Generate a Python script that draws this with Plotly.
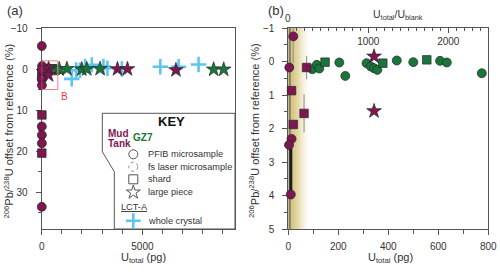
import plotly.graph_objects as go

W, H = 500, 272

# ---------------- data (U_total in pg, 206Pb/238U offset in %) ----------------
# Mud Tank
mt_circle_pg = [20, 4, 13, 3, 10, 5, 6, 8, 9, 4]
mt_circle_off = [-0.75, 0.18, 2.31, 2.49, 3.97, -5.6, 14.0, 16.1, 18.1, 33.6]
mt_circle_err_plus = [0.8, 0, 0, 0, 0, 0, 0, 0, 0, 0]
mt_circle_err_minus = [0.25, 0, 0, 0, 1.6, 0, 0, 0, 0, 0]
mt_circle_err_dark = [False, False, False, False, True, False, False, False, False, False]

mt_square_pg = [73, 13, 63, 20, 10, 6]
mt_square_off = [0.18, 0.87, 1.55, 1.88, 11.2, 20.5]
mt_square_err = [0.35, 0, 0.57, 0, 0, 0]

mt_star_pg = [343, 343, 3763, 4259, 6667]
mt_star_off = [-0.15, 1.48, 0.0, 0.0, 0.25]

# GZ7
gz_circle_pg = [96, 114, 124, 204, 228, 313, 330, 343, 356, 434, 500, 607, 634, 774]
gz_circle_off = [0.23, 0.10, 0.21, 0.03, 0.43, 0.05, 0.15, 0.20, 0.25, -0.03, 0.02, -0.02, 0.03, 0.35]
gz_square_pg = [147, 378, 554]
gz_square_off = [0.02, 0.05, -0.05]
gz_star_pg = [870, 1250, 1990, 2240, 2900, 8540, 9040]
gz_star_off = [0.0, -0.05, 0.05, 0.0, -0.05, 0.1, 0.1]

# LCT-A whole crystals
lct_pg = [1490, 1710, 1905, 2155, 2490, 3065, 3265, 3980, 5890, 6800, 7790]
lct_off = [2.4, 0.25, 0.3, -0.6, -1.0, -0.6, -0.2, 0.0, -0.55, -0.55, -1.1]

U_BLANK_PG = 0.32          # blank U used for the top ratio axis
BLANK_ZONE_PG = 95         # shaded low-U zone in panel b
A_XRANGE = [0, 9600]
A_YRANGE = [39, -10]
B_XRANGE = [0, 800]
B_YRANGE = [5, -1]
INSET_BOX = dict(x0=0, x1=800, y0=-2, y1=5)

# ---------------- style ----------------
PURPLE = '#7e1651'
GREEN = '#18763b'
LBLUE = '#5ec4f0'
OUTL = '#262626'
AX = '#555555'
TXT = '#333333'
FONT = 'Arial, Liberation Sans, sans-serif'
STAR = 11


def P(x, y):
    return x / W, 1 - y / H


fig = go.Figure()


def in_b(xs, ys):
    return [i for i, (x, y) in enumerate(zip(xs, ys))
            if B_XRANGE[0] <= x <= B_XRANGE[1] and min(B_YRANGE) <= y <= max(B_YRANGE)]


def pick(arr, idx):
    return [arr[i] for i in idx]


def mk(symbol, color, size):
    if symbol == 'cross-thin':
        return dict(symbol=symbol, size=size, color=color, line=dict(color=color, width=2.6))
    return dict(symbol=symbol, size=size, color=color, line=dict(color=OUTL, width=0.7))


# ---- panel b shaded blank zone ----
fig.add_trace(go.Scatter(
    x=[0, BLANK_ZONE_PG, BLANK_ZONE_PG, 0, 0],
    y=[B_YRANGE[1], B_YRANGE[1], B_YRANGE[0], B_YRANGE[0], B_YRANGE[1]],
    mode='lines', line=dict(width=0), fill='toself',
    fillgradient=dict(type='horizontal', colorscale=[
        [0, 'rgb(118,110,80)'], [0.09, 'rgb(150,138,92)'], [0.13, 'rgb(212,194,128)'],
        [0.45, 'rgb(232,221,178)'], [1, 'rgba(255,255,255,0)']]),
    xaxis='x2', yaxis='y2', hoverinfo='skip', showlegend=False))

# top ratio axis needs a (blank) trace to be drawn
fig.add_trace(go.Scatter(x=[B_XRANGE[1] / U_BLANK_PG / 2], y=[B_YRANGE[0] + 10], mode='markers',
                         marker=dict(size=1, color='rgba(0,0,0,0)'), xaxis='x3', yaxis='y2',
                         showlegend=False, hoverinfo='skip'))

series = [
    (lct_pg, lct_off, 'cross-thin', LBLUE, 11),
    (gz_circle_pg, gz_circle_off, 'circle', GREEN, 9),
    (gz_square_pg, gz_square_off, 'square', GREEN, 8.5),
    (gz_star_pg, gz_star_off, 'star', GREEN, STAR),
]

# Panel a (all points)
for xs, ys, sym, col, sz in series:
    fig.add_trace(go.Scatter(x=xs, y=ys, mode='markers', marker=mk(sym, col, sz),
                             cliponaxis=False, xaxis='x', yaxis='y', showlegend=False))
fig.add_trace(go.Scatter(x=mt_square_pg, y=mt_square_off, mode='markers',
                         marker=mk('square', PURPLE, 8.5), cliponaxis=False,
                         xaxis='x', yaxis='y', showlegend=False))
fig.add_trace(go.Scatter(x=mt_circle_pg, y=mt_circle_off, mode='markers',
                         marker=mk('circle', PURPLE, 9), cliponaxis=False,
                         xaxis='x', yaxis='y', showlegend=False))
fig.add_trace(go.Scatter(x=mt_star_pg, y=mt_star_off, mode='markers',
                         marker=mk('star', PURPLE, STAR), cliponaxis=False,
                         xaxis='x', yaxis='y', showlegend=False))

# Panel b (points inside the zoom window)
for xs, ys, sym, col, sz in series:
    idx = in_b(xs, ys)
    if idx:
        fig.add_trace(go.Scatter(x=pick(xs, idx), y=pick(ys, idx), mode='markers',
                                 marker=mk(sym, col, sz), cliponaxis=False,
                                 xaxis='x2', yaxis='y2', showlegend=False))

# Mud Tank error bars (panel b)
idx = in_b(mt_circle_pg, mt_circle_off)
dark = [i for i in idx if mt_circle_err_dark[i]]
fig.add_trace(go.Scatter(
    x=pick(mt_circle_pg, dark), y=pick(mt_circle_off, dark), mode='markers',
    marker=dict(size=1, color='rgba(0,0,0,0)'),
    error_y=dict(type='data', symmetric=False, array=pick(mt_circle_err_plus, dark),
                 arrayminus=pick(mt_circle_err_minus, dark), color='#1e1e1e',
                 thickness=3, width=0),
    xaxis='x2', yaxis='y2', showlegend=False, hoverinfo='skip'))

idx_s = in_b(mt_square_pg, mt_square_off)
fig.add_trace(go.Scatter(
    x=pick(mt_square_pg, idx_s), y=pick(mt_square_off, idx_s), mode='markers',
    marker=mk('square', PURPLE, 8.5),
    error_y=dict(type='data', array=pick(mt_square_err, idx_s), color='#9a9a9a',
                 thickness=1.2, width=0),
    cliponaxis=False, xaxis='x2', yaxis='y2', showlegend=False))
fig.add_trace(go.Scatter(
    x=pick(mt_circle_pg, idx), y=pick(mt_circle_off, idx), mode='markers',
    marker=mk('circle', PURPLE, 9),
    error_y=dict(type='data', symmetric=False,
                 array=[0 if mt_circle_err_dark[i] else mt_circle_err_plus[i] for i in idx],
                 arrayminus=[0 if mt_circle_err_dark[i] else mt_circle_err_minus[i] for i in idx],
                 color='#9a9a9a', thickness=1.2, width=0),
    cliponaxis=False, xaxis='x2', yaxis='y2', showlegend=False))
idx_t = in_b(mt_star_pg, mt_star_off)
fig.add_trace(go.Scatter(x=pick(mt_star_pg, idx_t), y=pick(mt_star_off, idx_t), mode='markers',
                         marker=mk('star', PURPLE, STAR), cliponaxis=False,
                         xaxis='x2', yaxis='y2', showlegend=False))

# ---- key glyphs on a full-figure pixel overlay axis ----
KX = 133.3
fig.add_trace(go.Scatter(x=[KX], y=[154.3], mode='markers', xaxis='x4', yaxis='y4',
                         marker=dict(symbol='circle-open', size=9, color='#555', line=dict(width=1)),
                         showlegend=False, hoverinfo='skip'))
fig.add_trace(go.Scatter(x=[KX], y=[179.3], mode='markers', xaxis='x4', yaxis='y4',
                         marker=dict(symbol='square-open', size=9, color='#555', line=dict(width=1)),
                         showlegend=False, hoverinfo='skip'))
fig.add_trace(go.Scatter(x=[KX], y=[192.3], mode='markers', xaxis='x4', yaxis='y4',
                         marker=dict(symbol='star-open', size=10.5, color='#555', line=dict(width=1)),
                         showlegend=False, hoverinfo='skip'))
fig.add_trace(go.Scatter(x=[KX], y=[220.7], mode='markers', xaxis='x4', yaxis='y4',
                         marker=dict(symbol='cross-thin', size=10.5, color=LBLUE,
                                     line=dict(color=LBLUE, width=2.6)),
                         showlegend=False, hoverinfo='skip'))

# ---------------- axes ----------------
ydom = [1 - 229 / H, 1 - 28 / H]
common = dict(showgrid=False, zeroline=False, showline=True, linecolor=AX, linewidth=1,
              mirror=True, ticks='outside', ticklen=5, tickcolor=AX, tickwidth=1,
              automargin=False,
              tickfont=dict(size=10, color=TXT, family=FONT), layer='below traces')

fig.update_layout(
    template='none',
    width=W, height=H, autosize=False,
    margin=dict(l=0, r=0, t=0, b=0, pad=0),
    paper_bgcolor='white', plot_bgcolor='rgba(0,0,0,0)',
    font=dict(family=FONT, color=TXT),
    xaxis=dict(domain=[41.7 / W, 235 / W], range=A_XRANGE, anchor='y',
               tick0=0, dtick=5000, ticklabelstandoff=3,
               minor=dict(dtick=1000, tick0=0, ticks='outside', ticklen=4, tickcolor=AX),
               **common),
    yaxis=dict(domain=ydom, range=A_YRANGE, anchor='x', tick0=0, dtick=10,
               ticklabelstandoff=6,
               minor=dict(dtick=5, tick0=0, ticks='outside', ticklen=3, tickcolor=AX),
               **common),
    xaxis2=dict(domain=[288.3 / W, 488.3 / W], range=B_XRANGE, anchor='y2',
                tick0=0, dtick=200, ticklabelstandoff=3,
                minor=dict(dtick=100, tick0=0, ticks='outside', ticklen=4, tickcolor=AX),
                **common),
    yaxis2=dict(domain=ydom, range=B_YRANGE, anchor='x2', tick0=0, dtick=1,
                ticklabelstandoff=6,
                minor=dict(dtick=0.5, tick0=0, ticks='outside', ticklen=3, tickcolor=AX),
                **common),
    xaxis3=dict(overlaying='x2', anchor='y2', side='top',
                range=[B_XRANGE[0] / U_BLANK_PG, B_XRANGE[1] / U_BLANK_PG],
                tickmode='array', tickvals=[1000, 2000], ticks='inside', ticklen=5,
                tickcolor=AX, ticklabelstandoff=-20, showticklabels=True,
                showline=False, showgrid=False, zeroline=False,
                automargin=False,
                tickfont=dict(size=10, color=TXT, family=FONT),
                minor=dict(dtick=100, tick0=0, ticks='inside', ticklen=3, tickcolor=AX)),
    xaxis4=dict(domain=[0, 1], range=[0, W], visible=False, anchor='y4', fixedrange=True,
                automargin=False),
    yaxis4=dict(domain=[0, 1], range=[H, 0], visible=False, anchor='x4', fixedrange=True,
                automargin=False),
)

# ---------------- shapes ----------------
key_pts = [(102.3, 113.3), (235, 113.3), (235, 229), (114.3, 229), (114.3, 171.7), (102.3, 151.7)]
path = 'M ' + ' L '.join(f'{P(x, y)[0]:.5f},{P(x, y)[1]:.5f}' for x, y in key_pts) + ' Z'
fig.add_shape(type='path', path=path, xref='paper', yref='paper',
              line=dict(color=AX, width=1), fillcolor='white', layer='below')
cx, cy = P(KX, 166.7)
rx, ry = 4.5 / W, 4.5 / H
fig.add_shape(type='circle', xref='paper', yref='paper', x0=cx - rx, x1=cx + rx,
              y0=cy - ry, y1=cy + ry, line=dict(color='#888', width=1, dash='dot'))
fig.add_shape(type='rect', xref='x', yref='y', x0=INSET_BOX['x0'], x1=INSET_BOX['x1'],
              y0=INSET_BOX['y0'], y1=INSET_BOX['y1'],
              line=dict(color='rgb(245,130,130)', width=1), layer='above')

# ---------------- text ----------------
def note(text, x, y, size=10, color=TXT, anchor='center', angle=0, bold=False):
    px, py = P(x, y)
    fig.add_annotation(text=f'<b>{text}</b>' if bold else text, x=px, y=py,
                       xref='paper', yref='paper', showarrow=False, xanchor=anchor,
                       yanchor='middle', textangle=angle,
                       font=dict(size=size, color=color, family=FONT))

ytitle = '<sup>206</sup>Pb/<sup>238</sup>U offset from reference (%)'
xtitle = 'U<sub>total</sub> (pg)'
note('(a)', 15, 11, 13)
note('(b)', 276, 11, 13)
note(xtitle, 143, 258, 11)
note(xtitle, 390, 258, 11)
note(ytitle, 8.5, 131, 11, angle=-90)
note(ytitle, 254, 131, 11, angle=-90)
note('U<sub>total</sub>/U<sub>blank</sub>', 398, 15, 10.5)
note('0', 287.5, 18.5, 10)
note('KEY', 171.7, 121.7, 13, color='#111', bold=True)
note('Mud', 118, 133, 10, color=PURPLE, bold=True)
note('Tank', 119, 143.3, 10, color=PURPLE, bold=True)
note('GZ7', 142.7, 137.3, 10, color=GREEN, bold=True)
for label, yy in [('PFIB microsample', 154.3), ('fs laser microsample', 166.7),
                  ('shard', 179.3), ('large piece', 192.3), ('whole crystal', 220.7)]:
    note(label, 145.7, yy, 9.2, anchor='left')
note('<u>LCT-A</u>', 118.5, 207.3, 9.2, anchor='left')

fig.add_annotation(text='B', x=1110, y=6.8, xref='x', yref='y', showarrow=False,
                   font=dict(size=10, color='rgb(240,60,60)', family=FONT))

fig.write_html('out.html', config={'displayModeBar': False, 'staticPlot': True},
               post_script="document.body.style.margin='0';document.body.style.overflow='hidden';")
